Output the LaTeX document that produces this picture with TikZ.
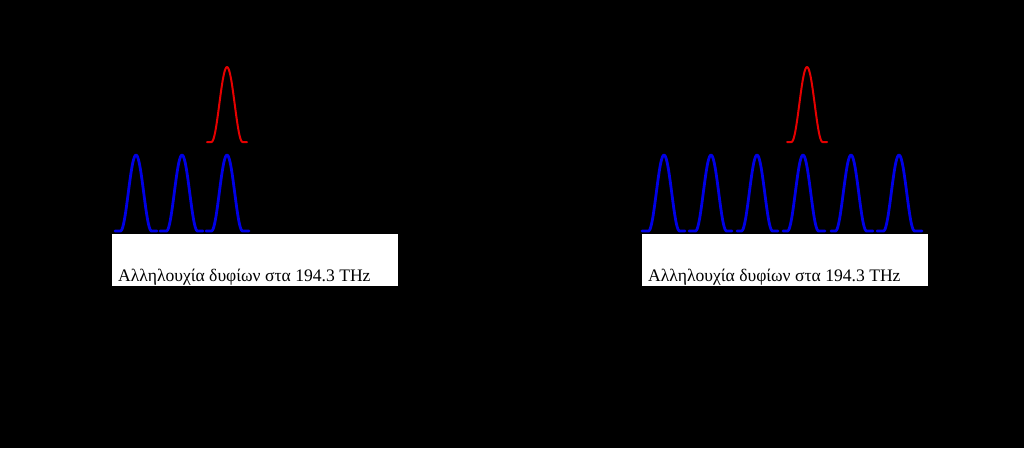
\documentclass[tikz,border=0pt]{standalone}
\usepackage{fontspec}
\setmainfont{Liberation Serif}
\begin{document}
\begin{tikzpicture}[x=1pt,y=-1pt,
  bluepulse/.style={draw=blue!90!black,line width=2.8pt,line join=round,line cap=round},
  redpulse/.style={draw=red!90!black,line width=2pt,line join=round,line cap=round},
  labelbox/.style={fill=white,draw=none,minimum width=286pt,minimum height=52pt,anchor=north west,inner sep=0pt},
  labeltext/.style={anchor=base west,inner sep=0pt,font=\fontsize{17.6}{20}\selectfont,text=black}]
\fill[black] (0,0) rectangle (1024,448);
\useasboundingbox (0,0) rectangle (1024,448);
\newcommand{\mypulse}[6]{% style, cx, base, height, left, right
  \draw[#1] (#2-#5,#3) -- (#2-15.5,#3)
    -- plot[domain=-15.5:15.5,samples=41,smooth] ({#2+\x},{#3-#4*cos(\x*180/31)*cos(\x*180/31)})
    -- (#2+#6,#3);}
% left panel
\node[labelbox] (boxL) at (112,234) {};
\node[labeltext] (txtL) at (118,281) {Αλληλουχία δυφίων στα 194.3 THz};
\mypulse{bluepulse}{136}{231}{76}{21}{21}
\mypulse{bluepulse}{182}{231}{76}{22}{21}
\mypulse{bluepulse}{227}{231}{76}{21}{22}
\mypulse{redpulse}{227}{142}{75}{20}{20}
% right panel
\node[labelbox] (boxR) at (642,234) {};
\node[labeltext] (txtR) at (648,281) {Αλληλουχία δυφίων στα 194.3 THz};
\mypulse{bluepulse}{664}{231}{76}{22}{21}
\mypulse{bluepulse}{711}{231}{76}{22}{21}
\mypulse{bluepulse}{757}{231}{76}{20}{21}
\mypulse{bluepulse}{803}{231}{76}{20}{22}
\mypulse{bluepulse}{851}{231}{76}{20}{22}
\mypulse{bluepulse}{899}{231}{76}{22}{23}
\mypulse{redpulse}{807}{142}{75}{20}{20}
\end{tikzpicture}
\end{document}
